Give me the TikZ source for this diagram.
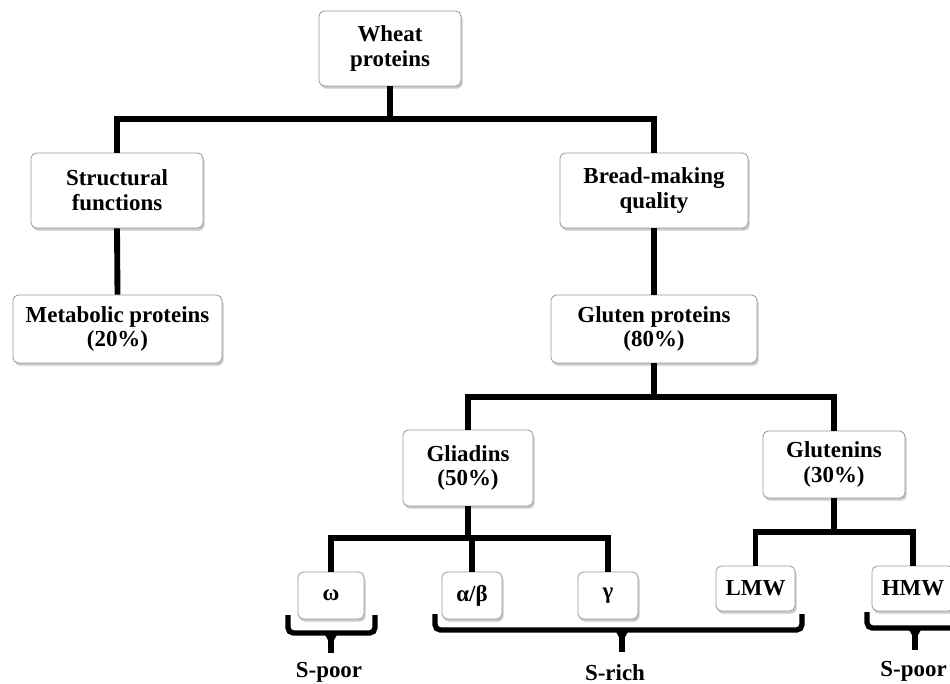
\documentclass[tikz,border=0pt]{standalone}
\usepackage{fontspec}
\setmainfont{Liberation Serif}
\usetikzlibrary{shadows}
\begin{document}
\begin{tikzpicture}[x=0.75pt,y=-0.75pt,
  box/.style={draw=black!40, line width=0.6pt, fill=white, rounded corners=4pt,
    align=center, inner sep=0pt, font=\fontsize{17.2}{18.5}\selectfont\bfseries,
    drop shadow={shadow xshift=1.2pt, shadow yshift=-2pt, opacity=0.35, fill=black!60}},
  conn/.style={line width=4.4pt, line join=miter},
  brace/.style={line width=4pt, rounded corners=4pt},
  stem/.style={line width=4pt},
  lbl/.style={font=\fontsize{17.2}{18}\selectfont\bfseries, inner sep=0pt}]
\useasboundingbox (0,0) rectangle (950,684);

% nodes
\node[box, minimum width=106.5pt, minimum height=56.25pt] (wheat) at (390,48.5) {Wheat\\proteins};
\node[box, minimum width=129pt, minimum height=56.25pt] (struct) at (117,190.5) {Structural\\functions};
\node[box, minimum width=156.75pt, minimum height=51pt] (metab) at (117.5,329) {Metabolic proteins\\(20\%)};
\node[box, minimum width=141pt, minimum height=56.25pt] (bread) at (654,190.5) {Bread-making\\quality};
\node[box, minimum width=154.5pt, minimum height=51pt] (gluten) at (654,329) {Gluten proteins\\(80\%)};
\node[box, minimum width=97.5pt, minimum height=57pt] (glia) at (468,468) {Gliadins\\(50\%)};
\node[box, minimum width=106.5pt, minimum height=50.25pt] (glut) at (834,464.5) {Glutenins\\(30\%)};
\node[box, minimum width=49.5pt, minimum height=35.25pt] (omega) at (331,595.5) {ω};
\node[box, minimum width=45pt, minimum height=35.25pt] (ab) at (472,595.5) {α/β};
\node[box, minimum width=45pt, minimum height=35.25pt] (gamma) at (608,595.5) {γ};
\node[box, minimum width=59.25pt, minimum height=33.75pt] (lmw) at (755.5,588.5) {LMW};
\node[box, minimum width=61.5pt, minimum height=33.75pt] (hmw) at (913,588.5) {HMW};

% bus levels
\coordinate (bus1) at (0,119);
\coordinate (bus2) at (0,397);
\coordinate (bus3) at (0,538);
\coordinate (bus4) at (0,532);

% connectors
\draw[conn] (wheat.south) -- (wheat.south |- bus1);
\draw[conn] (struct.north) |- (bus1 -| bread.north) -- (bread.north);
\draw[conn] (struct.south) -- (metab.north);
\draw[conn] (bread.south) -- (gluten.north);
\draw[conn] (gluten.south) -- (gluten.south |- bus2);
\draw[conn] (glia.north) |- (bus2 -| glut.north) -- (glut.north);
\draw[conn] (glia.south) -- (glia.south |- bus3);
\draw[conn] (omega.north) |- (bus3 -| gamma.north) -- (gamma.north);
\draw[conn] (ab.north) -- (ab.north |- bus3);
\draw[conn] (glut.south) -- (glut.south |- bus4);
\draw[conn] (lmw.north) |- (bus4 -| hmw.north) -- (hmw.north);

% braces
\draw[brace] (288,615) -- (288,633) -- (375,633) -- (375,615);
\draw[stem] (331,633) -- (331,653);
\fill (324,633) -- (338,633) -- (333.5,641) -- (328.5,641) -- cycle;

\draw[brace] (435,614) -- (435,630) -- (802,630) -- (802,614);
\draw[stem] (622,630) -- (622,652);
\fill (615,630) -- (629,630) -- (624.5,638) -- (619.5,638) -- cycle;

\draw[brace] (867,612) -- (867,628) -- (963,628) -- (963,612);
\draw[stem] (915,628) -- (915,650);
\fill (908,628) -- (922,628) -- (917.5,636) -- (912.5,636) -- cycle;

% labels
\node[lbl] (spoorA) at (329,672) {S-poor};
\node[lbl] (srich) at (615,673) {S-rich};
\node[lbl, anchor=east] (spoorB) at (947,671) {S-poor};
\end{tikzpicture}
\end{document}
